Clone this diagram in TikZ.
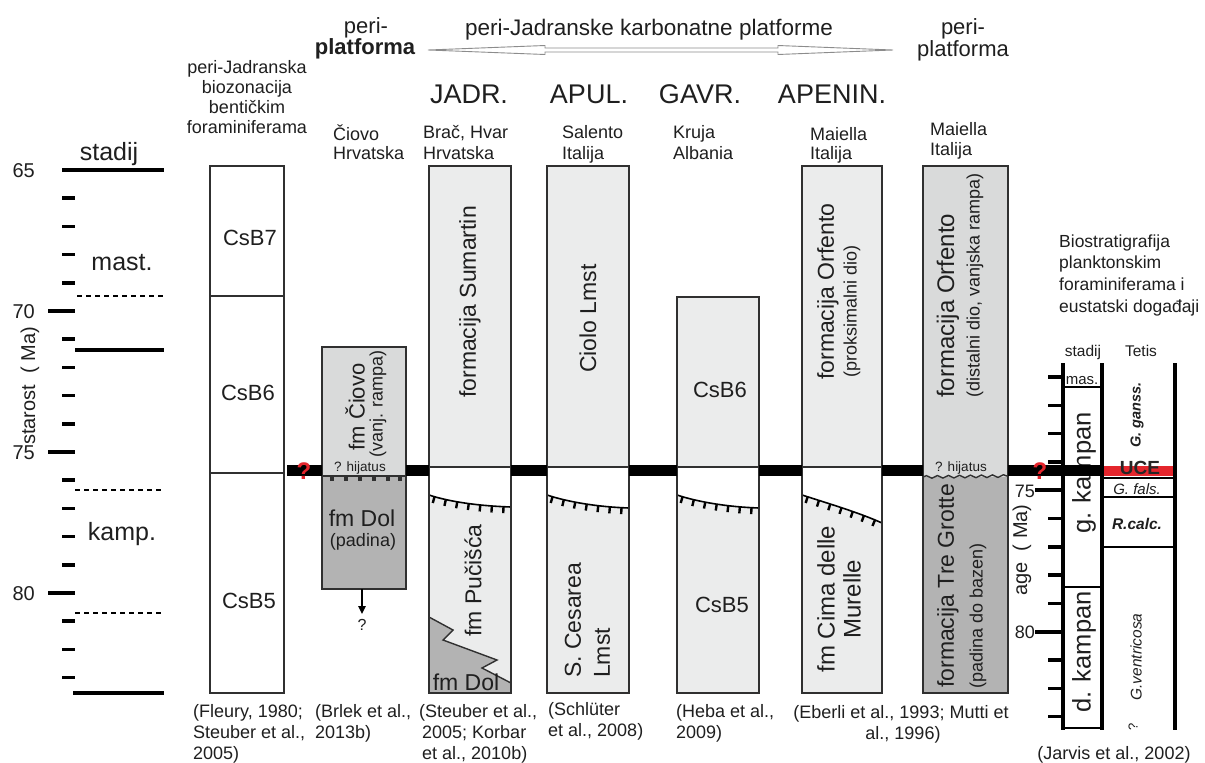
\documentclass[tikz,border=0pt]{standalone}
\usepackage{fontspec}
\setmainfont{Liberation Sans}
\usetikzlibrary{arrows.meta,decorations.pathmorphing,decorations.markings}
\definecolor{colb}{HTML}{303030}
\definecolor{lt}{HTML}{EBECEC}
\definecolor{md}{HTML}{D9DADA}
\definecolor{dk}{HTML}{B3B3B3}
\definecolor{qred}{HTML}{E4252C}
\definecolor{txt}{HTML}{1F1F1F}
\definecolor{argray}{HTML}{8C8C8C}
\newcommand{\fz}[1]{\fontsize{#1}{#1}\selectfont}
\begin{document}
\begin{tikzpicture}[x=1pt,y=-1pt,
  every node/.style={inner sep=0pt,text=txt},
  col/.style={draw=colb,line width=2.2pt},
  thinl/.style={draw=colb,line width=1.4pt},
  tk/.style={draw=black,line width=3.6pt},
  dsh/.style={draw=black,line width=1.5pt,dash pattern=on 5pt off 4pt},
  band/.style={draw=black,line width=11pt},
  eros/.style={draw=black,line width=1.6pt,postaction={decorate,decoration={markings,mark=between positions 0.07 and 0.97 step 0.14 with {\fill[black] (-1.2pt,0pt) rectangle (1.2pt,-6.5pt);}}}},
  fsm/.style={font=\fz{18}},
  fbig/.style={font=\fz{23}},
  fhead/.style={font=\fz{27}},
  fstage/.style={font=\fz{25}},
  fnum/.style={font=\fz{20}},
  fhij/.style={font=\fz{13.5}},
  rq/.style={font=\fz{24}\bfseries,text=qred},
  vert/.style={rotate=90},
  rpl/.style={draw=black,line width=4pt},
  rph/.style={draw=black,line width=2pt},
]
\useasboundingbox (0,0) rectangle (1205,763);
\fill[white] (0,0) rectangle (1205,763);

% ---------------- left age scale
\draw[tk] (62,170) -- (164,170);
\foreach \a in {66,67,68,69,71,72,73,74,76,77,78,79,81,82,83}
  \draw[tk] (62,{170+28.2*(\a-65)}) -- (75,{170+28.2*(\a-65)});
\foreach \a in {70,75,80}
  \draw[tk] (48,{170+28.2*(\a-65)}) -- (75,{170+28.2*(\a-65)});
\draw[tk] (75,350) -- (164,350);
\draw[tk] (73,693) -- (164,693);
\draw[dsh] (77,296) -- (164,296);
\draw[dsh] (75,490) -- (163,490);
\draw[dsh] (75,613) -- (163,613);
\node[fnum,anchor=base east] (n65) at (35,177) {65};
\node[fnum,anchor=base east] (n70) at (35,318) {70};
\node[fnum,anchor=base east] (n75) at (35,459) {75};
\node[fnum,anchor=base east] (n80) at (35,600) {80};
\node[fstage,anchor=base] (stadL) at (109,160) {stadij};
\node[fstage,anchor=base] (mast) at (122,270) {mast.};
\node[fstage,anchor=base] (kamp) at (122,540) {kamp.};
\node[font=\fz{20},vert] (starost) at (30,386) {starost\ \ ( Ma)};

% ---------------- headers
\node[font=\fz{22},anchor=base] (periA) at (366,33) {peri-};
\node[font=\fz{22}\bfseries,anchor=base] (platA) at (365,54.5) {platforma};
\node[font=\fz{22.5},anchor=base] (pjk) at (649,35) {peri-Jadranske karbonatne platforme};
\node[font=\fz{22},anchor=base] (periB) at (963,34) {peri-};
\node[font=\fz{22},anchor=base] (platB) at (963,56) {platforma};
\coordinate (arL) at (428,50);
\coordinate (arR) at (893,50);
\draw[argray,line width=0.9pt,fill=white] (arL) -- (545,45.5) -- (545,48) -- (778,48) -- (778,45.5) -- (arR) -- (778,54.5) -- (778,52) -- (545,52) -- (545,54.5) -- cycle;

\node[fsm,anchor=base] (h1a) at (247,73) {peri-Jadranska};
\node[fsm,anchor=base] (h1b) at (247,93) {biozonacija};
\node[fsm,anchor=base] (h1c) at (247,113) {bentičkim};
\node[fsm,anchor=base] (h1d) at (247,133) {foraminiferama};

\node[fhead,anchor=base] (hJ) at (469,103) {JADR.};
\node[fhead,anchor=base] (hA) at (589,103) {APUL.};
\node[fhead,anchor=base] (hG) at (700,103) {GAVR.};
\node[fhead,anchor=base] (hP) at (832,103) {APENIN.};

\node[fsm,anchor=base west] (s1a) at (333,140) {Čiovo};
\node[fsm,anchor=base west] (s1b) at (333,159) {Hrvatska};
\node[fsm,anchor=base west] (s2a) at (423,138.5) {Brač, Hvar};
\node[fsm,anchor=base west] (s2b) at (423,159) {Hrvatska};
\node[fsm,anchor=base west] (s3a) at (562,138.5) {Salento};
\node[fsm,anchor=base west] (s3b) at (562,159) {Italija};
\node[fsm,anchor=base west] (s4a) at (673,138.5) {Kruja};
\node[fsm,anchor=base west] (s4b) at (673,159) {Albania};
\node[fsm,anchor=base west] (s5a) at (810,140) {Maiella};
\node[fsm,anchor=base west] (s5b) at (810,159) {Italija};
\node[fsm,anchor=base west] (s6a) at (930,135) {Maiella};
\node[fsm,anchor=base west] (s6b) at (930,155) {Italija};

\node[font=\fz{17.5},anchor=base west] (b1) at (1059,247) {Biostratigrafija};
\node[font=\fz{17.5},anchor=base west] (b2) at (1059,268) {planktonskim};
\node[font=\fz{17.5},anchor=base west] (b3) at (1059,290) {foraminiferama i};
\node[font=\fz{17.5},anchor=base west] (b4) at (1059,312) {eustatski događaji};

% ---------------- column 1: biozonation
\draw[col,fill=white] (210,166) rectangle (284,693);
\draw[thinl] (210,296) -- (284,296) (210,473) -- (284,473);
\node[font=\fz{22}] (csb7) at (250,238) {CsB7};
\node[font=\fz{22}] (csb6a) at (248,393) {CsB6};
\node[font=\fz{22}] (csb5a) at (249,601) {CsB5};

% ---------------- Ciovo
\fill[md] (322,347) rectangle (406,476);
\fill[dk] (322,476) rectangle (406,589);
\draw[thinl] (322,476) -- (406,476);
\foreach \x in {332,346,360,374,388,400} \fill[colb] (\x-2.2,476) rectangle (\x+2.2,481);
\draw[col] (322,347) rectangle (406,589);
\node[font=\fz{22},vert] (fmciovo) at (355,407) {fm Čiovo};
\node[fsm,vert] (vanj) at (378,404) {(vanj. rampa)};
\node[fhij,anchor=base] (hij1) at (360,471) {? hijatus};
\node[fbig] (fmdol1) at (362,518) {fm Dol};
\node[fsm] (padina) at (363,542) {(padina)};
\coordinate (ciovoB) at (362,589);
\node[font=\fz{16}] (q3) at (362,625) {?};
\draw[line width=2pt,-{Triangle[width=7pt,length=8pt]},shorten >=5pt] (ciovoB) -- (q3.north);

% ---------------- JADR
\fill[white] (429,166) rectangle (511,693);
\fill[lt] (429,166) rectangle (511,467);
\fill[lt] (429,495) .. controls (450,502) and (480,506) .. (511,507) -- (511,693) -- (429,693) -- cycle;
\fill[dk] (429,617) -- (453,630) -- (443,640) -- (497,660) -- (482,668) -- (511,683) -- (511,693) -- (429,693) -- cycle;
\draw[colb,line width=1.4pt] (429,617) -- (453,630) -- (443,640) -- (497,660) -- (482,668) -- (511,683);
\draw[thinl] (429,467) -- (511,467);
\draw[eros] (429,495) .. controls (450,502) and (480,506) .. (511,507);
\draw[col] (429,166) rectangle (511,693);
\node[fbig,vert,anchor=west] (sumartin) at (470,398) {formacija Sumartin};
\node[fbig,vert,anchor=west] (pucisca) at (473,637) {fm Pučišća};
\node[fbig,anchor=base] (fmdol2) at (466,690) {fm Dol};

% ---------------- APUL
\fill[white] (547,166) rectangle (629,693);
\fill[lt] (547,166) rectangle (629,467);
\fill[lt] (547,495) .. controls (568,502) and (598,507) .. (629,508) -- (629,693) -- (547,693) -- cycle;
\draw[thinl] (547,467) -- (629,467);
\draw[eros] (547,495) .. controls (568,502) and (598,507) .. (629,508);
\draw[col] (547,166) rectangle (629,693);
\node[fbig,vert,anchor=west] (ciolo) at (588,373) {Ciolo Lmst};
\node[fbig,vert,anchor=west] (scesarea) at (573,678) {S. Cesarea};
\node[fbig,vert,anchor=west] (lmst) at (602,678) {Lmst};

% ---------------- GAVR
\fill[white] (677,297) rectangle (759,693);
\fill[lt] (677,297) rectangle (759,467);
\fill[lt] (677,495) .. controls (698,502) and (728,507) .. (759,508) -- (759,693) -- (677,693) -- cycle;
\draw[thinl] (677,467) -- (759,467);
\draw[eros] (677,495) .. controls (698,502) and (728,507) .. (759,508);
\draw[col] (677,297) rectangle (759,693);
\node[font=\fz{22}] (csb6b) at (720,390) {CsB6};
\node[font=\fz{22}] (csb5b) at (722,605) {CsB5};

% ---------------- APENIN
\fill[white] (802,166) rectangle (882,693);
\fill[lt] (802,166) rectangle (882,467);
\fill[lt] (802,495) .. controls (830,504) and (860,513) .. (882,523) -- (882,693) -- (802,693) -- cycle;
\draw[thinl] (802,467) -- (882,467);
\draw[eros] (802,495) .. controls (830,504) and (860,513) .. (882,523);
\draw[col] (802,166) rectangle (882,693);
\node[fbig,vert,anchor=west] (orf1) at (828,380) {formacija Orfento};
\node[fsm,vert,anchor=west] (proks) at (852,378) {(proksimalni dio)};
\node[font=\fz{24},vert] (cima) at (826,599) {fm Cima delle};
\node[font=\fz{24},vert] (murelle) at (852,599) {Murelle};

% ---------------- peri-platform (Maiella distal)
\fill[md] (923,166) rectangle (1008,477);
\fill[dk] (923,477) rectangle (1008,693);
\draw[colb,line width=1.4pt,decorate,decoration={snake,amplitude=1.3pt,segment length=11pt}] (923,477) -- (1008,476);
\draw[col] (923,166) rectangle (1008,693);
\node[font=\fz{24},vert,anchor=west] (orf2) at (948,398) {formacija Orfento};
\node[fsm,vert,anchor=west] (dist) at (975,398) {(distalni dio, vanjska rampa)};
\node[fhij,anchor=base] (hij2) at (961,471) {? hijatus};
\node[fbig,vert] (tregr) at (948,586) {formacija Tre Grotte};
\node[fsm,vert] (bazen) at (978,616) {(padina do bazen)};

% ---------------- right panel (Jarvis)
\node[font=\fz{15.5},anchor=base] (stadR) at (1083,356) {stadij};
\node[font=\fz{15.5},anchor=base] (tetis) at (1141,356) {Tetis};
\foreach \k in {0,...,12}
  \draw[tk] (1048,{377+28.3*\k}) -- (1063,{377+28.3*\k});
\draw[tk] (1035,490.2) -- (1063,490.2);
\draw[tk] (1035,631.7) -- (1063,631.7);
\node[font=\fz{18},anchor=base east] (r75) at (1035,497) {75};
\node[font=\fz{18},anchor=base east] (r80) at (1035,638) {80};
\node[font=\fz{20},vert] (age) at (1022,550) {age\ \ ( Ma)};
\draw[rph] (1063,387) -- (1102,387);
\draw[rph] (1063,587) -- (1104,587);
\draw[rph] (1063,728) -- (1102,728);
\draw[rph] (1102,478) -- (1175,478);
\draw[rph,line width=2.5pt] (1102,497) -- (1175,497);
\draw[rph] (1102,547) -- (1175,547);
\fill[qred] (1102,466) rectangle (1175,476);
\draw[rpl] (1063,363) -- (1063,730);
\draw[rpl] (1102,363) -- (1102,730);
\draw[rpl] (1175,363) -- (1175,730);
\node[font=\fz{15},anchor=base] (mas) at (1082,384) {mas.};
\node[font=\fz{25.5},vert] (gkamp) at (1084,473) {g. kampan};
\node[font=\fz{25.5},vert] (dkamp) at (1084,652) {d. kampan};
\node[font=\fz{14.5}\bfseries\itshape,vert] (ganss) at (1137,415) {G. ganss.};
\node[font=\fz{15}\itshape] (gfals) at (1137,489) {G. fals.};
\node[font=\fz{15.5}\bfseries\itshape] (rcalc) at (1137,524) {R.calc.};
\node[font=\fz{15.5}\itshape,vert] (gvent) at (1136,657) {G.ventricosa};
\node[font=\fz{13},vert] (qv) at (1133,727) {?};

% ---------------- hiatus band
\draw[band] (287,470.5) -- (322,470.5);
\draw[band] (406,470.5) -- (429,470.5);
\draw[band] (511,470.5) -- (547,470.5);
\draw[band] (629,470.5) -- (677,470.5);
\draw[band] (759,470.5) -- (802,470.5);
\draw[band] (882,470.5) -- (923,470.5);
\draw[band] (1008,470.5) -- (1102,470.5);
\node[font=\fz{19}\bfseries,anchor=base,text=black!85] (uce) at (1140,474) {UCE};
\node[rq] (q1) at (304,471) {?};
\node[rq] (q2) at (1040,471) {?};

% ---------------- citations
\node[fsm,anchor=base west] (c1a) at (193,717) {(Fleury, 1980;};
\node[fsm,anchor=base west] (c1b) at (193,738) {Steuber et al.,};
\node[fsm,anchor=base west] (c1c) at (193,759) {2005)};
\node[fsm,anchor=base west] (c2a) at (315,717) {(Brlek et al.,};
\node[fsm,anchor=base west] (c2b) at (315,738) {2013b)};
\node[fsm,anchor=base west] (c3a) at (419,717) {(Steuber et al.,};
\node[fsm,anchor=base west] (c3b) at (422,738) {2005; Korbar};
\node[fsm,anchor=base west] (c3c) at (422,759) {et al., 2010b)};
\node[fsm,anchor=base west] (c4a) at (548,715) {(Schlüter};
\node[fsm,anchor=base west] (c4b) at (548,736) {et al., 2008)};
\node[fsm,anchor=base west] (c5a) at (676,717) {(Heba et al.,};
\node[fsm,anchor=base west] (c5b) at (676,738) {2009)};
\node[fsm,anchor=base] (c6a) at (901,718) {(Eberli et al., 1993; Mutti et};
\node[fsm,anchor=base] (c6b) at (903,739) {al., 1996)};
\node[fsm,anchor=base] (c7) at (1114,759) {(Jarvis et al., 2002)};
\end{tikzpicture}
\end{document}
